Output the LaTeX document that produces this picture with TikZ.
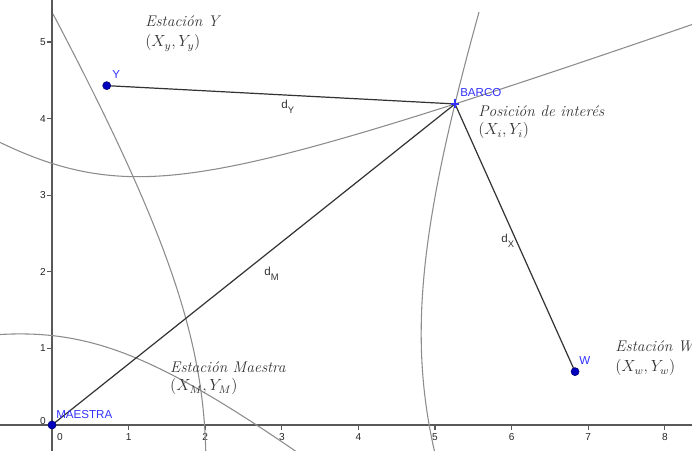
\documentclass[tikz,border=0pt]{standalone}
\usepackage{fontspec}
\newfontfamily\ggb{Liberation Sans}
\definecolor{labelblue}{RGB}{50,50,255}
\definecolor{dotblue}{RGB}{0,0,190}
\begin{document}
\begin{tikzpicture}[x=2cm,y=2cm,
  axis/.style={draw=black!65, line width=1.1pt},
  tickmark/.style={draw=black!65, line width=0.8pt},
  ticklabel/.style={font=\ggb\fontsize{7.5}{9}\selectfont, text=black!85, inner sep=0pt},
  hyp/.style={draw=black!45, line width=0.8pt},
  seg/.style={draw=black!80, line width=0.9pt},
  ptdot/.style={circle, fill=dotblue, draw=dotblue!60!black, line width=0.4pt, inner sep=0pt, minimum size=6pt},
  ptlabel/.style={font=\ggb\fontsize{8.6}{10}\selectfont, text=labelblue, inner sep=0pt, anchor=base west},
  dlabel/.style={font=\ggb\fontsize{8.6}{10}\selectfont, text=black!80, inner sep=0pt, anchor=base west},
  note/.style={font=\fontsize{11.5}{14}\selectfont, text=black!80, inner sep=0pt, anchor=base west}]
\useasboundingbox (-0.679,-0.339) rectangle (8.355,5.548);

% axes
\draw[axis] (-0.679,0) -- (8.355,0);
\draw[axis] (0,-0.339) -- (0,5.548);
\foreach \i in {1,...,8} {
  \draw[tickmark] (\i,0) -- (\i,-0.065);
  \node[ticklabel] (xl\i) at (\i,-0.157) {\i};
}
\foreach \j in {1,...,5} {
  \draw[tickmark] (0,\j) -- (-0.065,\j);
  \node[ticklabel] (yl\j) at (-0.117,\j) {\j};
}
\node[ticklabel] (xl0) at (0.104,-0.157) {0};
\node[ticklabel] (yl0) at (-0.117,0.05) {0};

% hyperbolas
\begin{scope}
\clip (-0.679,-0.339) rectangle (8.355,5.39);
% foci M and W, branch near W
\draw[hyp] plot[domain=-0.6:1.6, samples=120, variable=\t]
  ({3.414 + 1.44041*cosh(\t) - 0.31556*sinh(\t)}, {0.348 + 0.14683*cosh(\t) + 3.09569*sinh(\t)});
% foci M and W, branch near M
\draw[hyp] plot[domain=-0.6:1.31, samples=120, variable=\t]
  ({3.414 - 1.44041*cosh(\t) - 0.31556*sinh(\t)}, {0.348 - 0.14683*cosh(\t) + 3.09569*sinh(\t)});
% foci M and Y, branch near Y
\draw[hyp] plot[domain=-2.3:0.8, samples=150, variable=\t]
  ({0.357 + 0.17286*cosh(\t) - 1.93806*sinh(\t)}, {2.215 + 1.07270*cosh(\t) + 0.31231*sinh(\t)});
% foci M and Y, branch near M
\draw[hyp] plot[domain=-1.5:0.8, samples=120, variable=\t]
  ({0.357 - 0.17286*cosh(\t) - 1.93806*sinh(\t)}, {2.215 - 1.07270*cosh(\t) + 0.31231*sinh(\t)});
\end{scope}

% points
\coordinate (M) at (0,0);
\coordinate (Y) at (0.714,4.430);
\coordinate (W) at (6.828,0.696);
\coordinate (B) at (5.261,4.191);

% segments
\draw[seg] (Y) -- (B);
\draw[seg] (M) -- (B);
\draw[seg] (B) -- (W);

\node[ptdot] (Mdot) at (M) {};
\node[ptdot] (Ydot) at (Y) {};
\node[ptdot] (Wdot) at (W) {};
\draw[labelblue, line width=0.9pt] ([xshift=-3.3pt]B) -- ([xshift=3.3pt]B) ([yshift=-3.3pt]B) -- ([yshift=3.3pt]B);

% point labels
\node[ptlabel] (lY) at (0.783,4.517) {Y};
\node[ptlabel] (lB) at (5.326,4.282) {BARCO};
\node[ptlabel] (lW) at (6.880,0.783) {W};
\node[ptlabel] (lM) at (0.052,0.091) {MAESTRA};

% distance labels
\node[dlabel] (dY) at (2.990,4.125) {d\raisebox{-3pt}{\fontsize{7}{8}\selectfont Y}};
\node[dlabel] (dM) at (2.768,1.945) {d\raisebox{-3pt}{\fontsize{7}{8}\selectfont M}};
\node[dlabel] (dX) at (5.862,2.376) {d\raisebox{-3pt}{\fontsize{7}{8}\selectfont X}};

% annotations
\node[note] (nY1) at (1.214,5.196) {\textit{Estación Y}};
\node[note] (nY2) at (1.214,4.935) {$(X_y,Y_y)$};
\node[note] (nB1) at (5.561,4.021) {\textit{Posición de interés}};
\node[note] (nB2) at (5.561,3.786) {$(X_i,Y_i)$};
\node[note] (nW1) at (7.350,0.953) {\textit{Estación W}};
\node[note] (nW2) at (7.350,0.692) {$(X_w,Y_w)$};
\node[note] (nM1) at (1.540,0.679) {\textit{Estación Maestra}};
\node[note] (nM2) at (1.540,0.444) {$(X_M,Y_M)$};
\end{tikzpicture}
\end{document}
